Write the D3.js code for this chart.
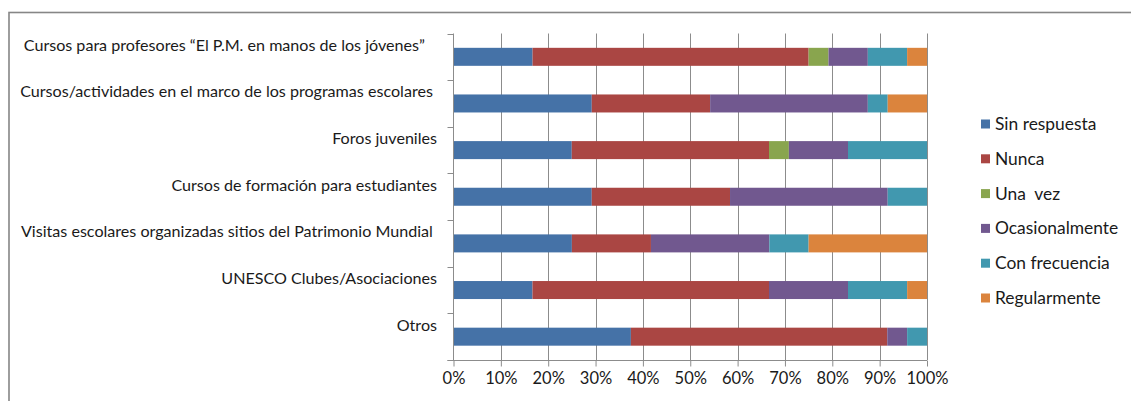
<!DOCTYPE html>
<html>
<head>
<meta charset="utf-8">
<script src="https://cdn.jsdelivr.net/npm/d3@7"></script>
<style>
  html, body { margin: 0; padding: 0; background: #fff; }
  svg { display: block; }
  text { font-family: Lato, "Open Sans", sans-serif; fill: #1a1a1a; white-space: pre; }
</style>
</head>
<body>
<svg id="chart" width="1131" height="401"></svg>
<script>
// ---- data ----
const categories = [
  "Cursos para profesores \u201cEl P.M. en manos de los j\u00f3venes\u201d\u00a0\u00a0\u00a0",
  "Cursos/actividades en el marco de los programas escolares\u00a0",
  "Foros juveniles",
  "Cursos de formaci\u00f3n para estudiantes",
  "Visitas escolares organizadas sitios del Patrimonio Mundial\u00a0",
  "UNESCO Clubes/Asociaciones",
  "Otros"
];
const seriesNames = ["Sin respuesta", "Nunca", "Una  vez", "Ocasionalmente", "Con frecuencia", "Regularmente"];
const sinRespuesta   = [16.7, 29.2, 25.0, 29.2, 25.0, 16.7, 37.5];
const nunca          = [58.3, 25.0, 41.7, 29.2, 16.7, 50.0, 54.2];
const unaVez         = [ 4.2,  0.0,  4.2,  0.0,  0.0,  0.0,  0.0];
const ocasionalmente = [ 8.3, 33.3, 12.5, 33.3, 25.0, 16.7,  4.2];
const conFrecuencia  = [ 8.3,  4.2, 16.7,  8.3,  8.3, 12.5,  4.2];
const regularmente   = [ 4.2,  8.3,  0.0,  0.0, 25.0,  4.2,  0.0];
const xTicks = [0, 0.1, 0.2, 0.3, 0.4, 0.5, 0.6, 0.7, 0.8, 0.9, 1.0];
const colors = ["#4572A7", "#AA4643", "#89A54E", "#71588F", "#4198AF", "#DB843D"];

const seriesValues = [sinRespuesta, nunca, unaVez, ocasionalmente, conFrecuencia, regularmente];

// ---- build table ----
const rows = categories.map((c, i) => {
  const r = { cat: c };
  const tot = seriesValues.reduce((s, arr) => s + arr[i], 0);
  seriesNames.forEach((n, k) => { r[n] = seriesValues[k][i] / tot; });
  return r;
});
const stacked = d3.stack().keys(seriesNames)(rows);

const svg = d3.select("#chart");

// outer chart border
svg.append("rect")
  .attr("x", 9).attr("y", 12.5)
  .attr("width", 1200).attr("height", 500)
  .attr("fill", "none").attr("stroke", "#868686").attr("stroke-width", 1.6);

const x = d3.scaleLinear().domain([0, 1]).range([453.5, 927]);
const y = d3.scaleBand().domain(categories).range([33.5, 360])
  .paddingInner(0.614).paddingOuter(0.307);

// gridlines
svg.append("g").selectAll("line").data(xTicks.slice(1)).join("line")
  .attr("x1", d => Math.round(x(d)) + 0.5).attr("x2", d => Math.round(x(d)) + 0.5)
  .attr("y1", 33.5).attr("y2", 360)
  .attr("stroke", "#8c8c8c").attr("stroke-width", 1);

// bars
svg.append("g").selectAll("g").data(stacked).join("g")
  .attr("fill", (d, i) => colors[i])
  .selectAll("rect").data(d => d).join("rect")
  .attr("x", d => x(d[0]))
  .attr("width", d => x(d[1]) - x(d[0]))
  .attr("y", d => y(d.data.cat))
  .attr("height", y.bandwidth());

// bottom axis
const xAxis = d3.axisBottom(x).tickValues(xTicks).tickFormat(d3.format(".0%"))
  .tickSizeInner(6).tickSizeOuter(0);
const gx = svg.append("g").attr("transform", "translate(0,360.5)").call(xAxis);
gx.select(".domain").attr("stroke", "#8c8c8c").attr("d", `M${x(0) - 6},0H${x(1)}`);
gx.selectAll(".tick line").attr("stroke", "#8c8c8c");
gx.selectAll(".tick text").attr("y", 23).attr("dy", 0)
  .style("font-size", "16.5px").style("font-family", "Lato, sans-serif").attr("fill", "#1a1a1a");

// left axis line + boundary ticks
const bounds = categories.map(c => y(c) + y.bandwidth() / 2 - y.step() / 2)
  .concat([y(categories[categories.length - 1]) + y.bandwidth() / 2 + y.step() / 2]);
const gy = svg.append("g");
gy.append("line").attr("x1", 453.5).attr("x2", 453.5).attr("y1", 33.5).attr("y2", 360.5)
  .attr("stroke", "#8c8c8c");
gy.selectAll("line.t").data(bounds).join("line").attr("class", "t")
  .attr("x1", 447.5).attr("x2", 453.5)
  .attr("y1", d => Math.round(d) + 0.5).attr("y2", d => Math.round(d) + 0.5)
  .attr("stroke", "#8c8c8c");

// category labels
svg.append("g").selectAll("text").data(categories).join("text")
  .attr("x", 437)
  .attr("y", d => y(d) + y.bandwidth() / 2 - 6)
  .attr("text-anchor", "end")
  .style("font-size", "16.1px")
  .text(d => d);

// legend
const leg = svg.append("g").selectAll("g").data(seriesNames).join("g")
  .attr("transform", (d, i) => `translate(981, ${124 + i * 34.8})`);
leg.append("rect").attr("x", 0).attr("y", -4.5).attr("width", 9).attr("height", 9)
  .attr("fill", (d, i) => colors[i]);
leg.append("text").attr("x", 14).attr("y", 6)
  .style("font-size", "17.4px")
  .text(d => d);
</script>
</body>
</html>
